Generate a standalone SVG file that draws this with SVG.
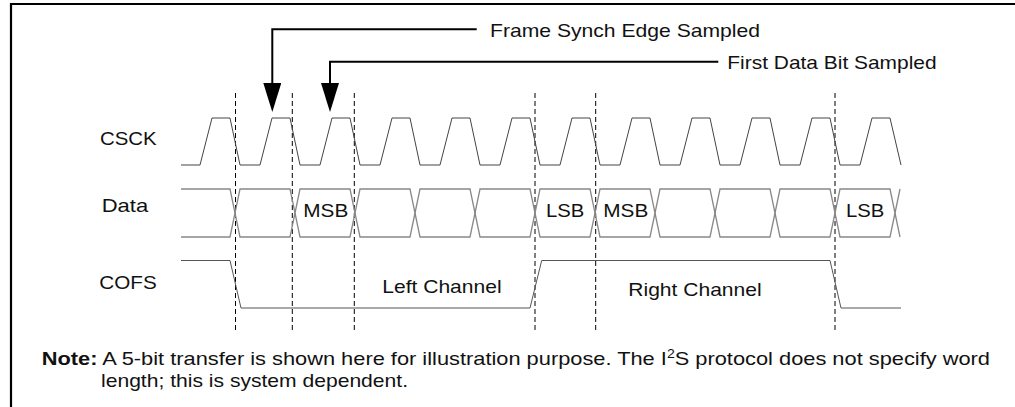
<svg xmlns="http://www.w3.org/2000/svg" width="1015" height="407" viewBox="0 0 1015 407">
<style>
.t{font-family:"Liberation Sans",Arial,sans-serif;font-size:18.6px;fill:#111}
.clk{fill:none;stroke:#444;stroke-width:1}
.dat{fill:none;stroke:#888;stroke-width:1.3}
.fs{fill:none;stroke:#555;stroke-width:1}
.dash{stroke:#000;stroke-width:1;stroke-dasharray:5 3}
.arr{fill:none;stroke:#000;stroke-width:2}
</style>
<defs>
<marker id="ah" markerUnits="userSpaceOnUse" markerWidth="30" markerHeight="18" refX="0" refY="9" orient="auto" viewBox="0 0 30 18">
<path d="M0,0 L29,9 L0,18 Z" fill="#000"/>
</marker>
</defs>
<rect width="1015" height="407" fill="#fff"/>
<path d="M11,407 V4 H1015" fill="none" stroke="#000" stroke-width="2.2"/>
<g id="guides">
<line class="dash" x1="235.5" y1="93" x2="235.5" y2="332"/>
<line class="dash" x1="292.3" y1="93" x2="292.3" y2="332"/>
<line class="dash" x1="354.3" y1="93" x2="354.3" y2="332"/>
<line class="dash" x1="535" y1="93" x2="535" y2="332"/>
<line class="dash" x1="595.7" y1="93" x2="595.7" y2="332"/>
<line class="dash" x1="835" y1="93" x2="835" y2="332"/>
</g>
<g id="csck">
<text class="t" x="100" y="145" textLength="56.7" lengthAdjust="spacingAndGlyphs">CSCK</text>
<path class="clk" d="M181,165 H200 L212,118 H230 L240,165 H260 L272,118 H290 L300,165 H320 L332,118 H350 L360,165 H380 L392,118 H410 L420,165 H440 L452,118 H470 L480,165 H500 L512,118 H530 L540,165 H560 L572,118 H590 L600,165 H620 L632,118 H650 L660,165 H680 L692,118 H710 L720,165 H740 L752,118 H770 L780,165 H800 L812,118 H830 L840,165 H860 L872,118 H890 L901,165"/>
</g>
<g id="data">
<text class="t" x="101.7" y="211.7" textLength="46.5" lengthAdjust="spacingAndGlyphs">Data</text>
<path class="dat" d="M181,189 H230 L240,237 H290 L300,189 H350 L360,237 H410 L420,189 H470 L480,237 H530 L540,189 H590 L600,237 H650 L660,189 H710 L720,237 H770 L780,189 H830 L840,237 H890 L900,189"/>
<path class="dat" d="M181,237 H230 L240,189 H290 L300,237 H350 L360,189 H410 L420,237 H470 L480,189 H530 L540,237 H590 L600,189 H650 L660,237 H710 L720,189 H770 L780,237 H830 L840,189 H890 L900,237"/>
<text class="t" x="303.3" y="217.3" textLength="45" lengthAdjust="spacingAndGlyphs">MSB</text>
<text class="t" x="546" y="217.3" textLength="38.3" lengthAdjust="spacingAndGlyphs">LSB</text>
<text class="t" x="603.3" y="217.3" textLength="45" lengthAdjust="spacingAndGlyphs">MSB</text>
<text class="t" x="846" y="217.3" textLength="38.3" lengthAdjust="spacingAndGlyphs">LSB</text>
</g>
<g id="cofs">
<text class="t" x="99.3" y="289.3" textLength="57.4" lengthAdjust="spacingAndGlyphs">COFS</text>
<path class="fs" d="M181,260.5 H230 L241,308 H530 L541.7,260.5 H830 L841,308 H901"/>
<text class="t" x="382.3" y="293.3" textLength="119.3" lengthAdjust="spacingAndGlyphs">Left Channel</text>
<text class="t" x="628.3" y="295.7" textLength="133.3" lengthAdjust="spacingAndGlyphs">Right Channel</text>
</g>
<g id="label-frame-synch">
<text class="t" x="490" y="36.7" textLength="270" lengthAdjust="spacingAndGlyphs">Frame Synch Edge Sampled</text>
</g>
<g id="label-first-bit">
<text class="t" x="727.3" y="69.3" textLength="209.3" lengthAdjust="spacingAndGlyphs">First Data Bit Sampled</text>
</g>
<g id="connectors">
<path class="arr" d="M476.7,29.3 H272.3 V83" marker-end="url(#ah)"/>
<path class="arr" d="M718.3,61.7 H330 V83" marker-end="url(#ah)"/>
</g>
<g id="note">
<text class="t" x="41.7" y="364.5" textLength="948.3" lengthAdjust="spacingAndGlyphs"><tspan font-weight="bold">Note:</tspan> A 5-bit transfer is shown here for illustration purpose. The I<tspan font-size="12" dy="-7">2</tspan><tspan dy="7">S protocol does not specify word</tspan></text>
<text class="t" x="101" y="386.5" textLength="307" lengthAdjust="spacingAndGlyphs">length; this is system dependent.</text>
</g>
</svg>
